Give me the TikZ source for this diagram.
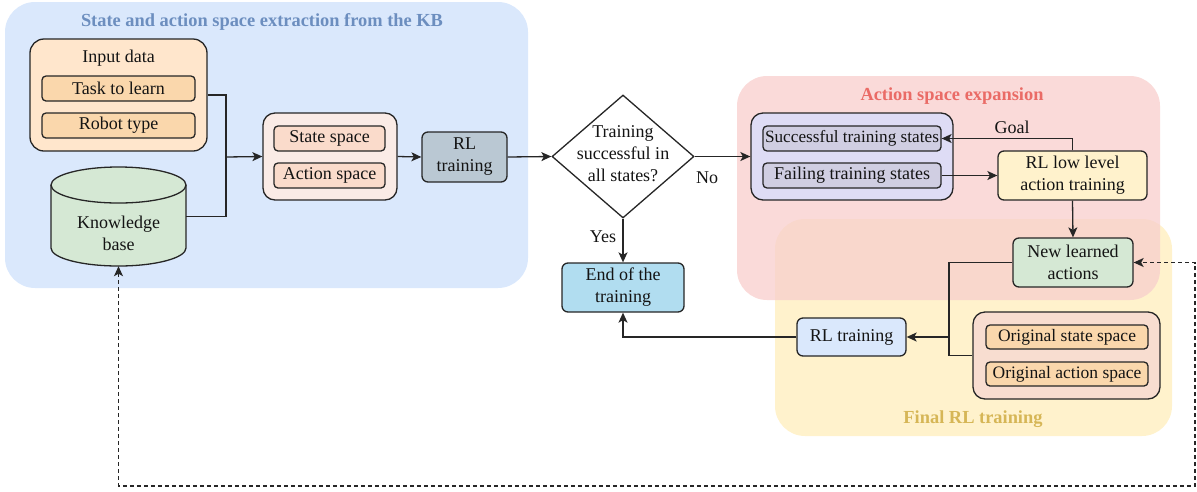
\documentclass[tikz,border=0pt]{standalone}
\usepackage{fontspec}
\setmainfont{Liberation Serif}
\usetikzlibrary{arrows.meta,shapes.geometric}
\definecolor{linec}{HTML}{262626}
\definecolor{blueReg}{HTML}{DAE8FC}
\definecolor{redReg}{HTML}{F8CECC}
\definecolor{yelReg}{HTML}{FFF2CC}
\definecolor{blueTitle}{HTML}{6C8EBF}
\definecolor{redTitle}{HTML}{EA6B66}
\definecolor{yelTitle}{HTML}{D6B656}
\definecolor{peach}{HTML}{FFE6CC}
\definecolor{orangeIn}{HTML}{FAD7AC}
\definecolor{kbgreen}{HTML}{D5E8D4}
\definecolor{saOuter}{HTML}{FAEBE6}
\definecolor{saInner}{HTML}{FADBCB}
\definecolor{rlgray}{HTML}{BAC8D3}
\definecolor{endblue}{HTML}{B1DDF0}
\definecolor{lavOuter}{HTML}{DEDCF5}
\definecolor{lavInner}{HTML}{D0CEE2}
\definecolor{origOuter}{HTML}{F8DDD0}
\begin{document}
\begin{tikzpicture}[x=1pt,y=-1pt,
  font=\fontsize{18}{22}\selectfont,
  regtitle/.style={font=\fontsize{18.4}{22}\selectfont\bfseries},
  box/.style={draw=linec, line width=1.3pt, rounded corners=6pt, inner sep=0pt, align=center, text=black!92},
  inbox/.style={box, rounded corners=4pt},
  conn/.style={draw=linec, line width=1.3pt},
  tip/.tip={Stealth[length=10pt,width=9pt,inset=2.5pt]},
  arr/.style={conn, -tip},
  lbl/.style={inner sep=0pt, text=black!92, align=center}]
\useasboundingbox (0,0) rectangle (1197,491);

% regions
\fill[blueReg, rounded corners=30pt] (5,2) rectangle (528,288);
\fill[yelReg, rounded corners=30pt] (775,219) rectangle (1172,436);
\fill[redReg, fill opacity=0.75, rounded corners=30pt] (737,76) rectangle (1160,300);
\node[regtitle, text=blueTitle] (t1) at (262,22) {State and action space extraction from the KB};
\node[regtitle, text=redTitle] (t2) at (952,96) {Action space expansion};
\node[regtitle, text=yelTitle] (t3) at (973,419) {Final RL training};

% input data
\node[box, fill=peach, rounded corners=14pt, minimum width=177pt, minimum height=112pt] (input) at (118.5,95) {};
\node[lbl] (inputt) at (118.5,58) {Input data};
\node[inbox, fill=orangeIn, minimum width=153pt, minimum height=25pt] (task) at (118.5,88.5) {Task to learn};
\node[inbox, fill=orangeIn, minimum width=153pt, minimum height=25pt] (robot) at (118.5,125.5) {Robot type};

% knowledge base cylinder
\fill[kbgreen] (51,185) -- (51,248) arc[start angle=180, end angle=360, x radius=67.5, y radius=-18] -- (186,185) -- cycle;
\fill[kbgreen] (118.5,185) ellipse[x radius=67.5, y radius=18];
\draw[conn] (51,185) -- (51,248) arc[start angle=180, end angle=360, x radius=67.5, y radius=-18] -- (186,185);
\draw[conn] (118.5,185) ellipse[x radius=67.5, y radius=18];
\node[minimum width=135pt, minimum height=99pt, inner sep=0pt] (kb) at (118.5,216.5) {};
\node[lbl] (kbt) at (118.5,233.5) {Knowledge\\base};

% state/action
\node[box, fill=saOuter, rounded corners=12pt, minimum width=134pt, minimum height=87pt] (sa) at (330,156.5) {};
\node[inbox, fill=saInner, minimum width=111pt, minimum height=25pt] (ss) at (329.5,138.5) {State space};
\node[inbox, fill=saInner, minimum width=111pt, minimum height=25pt] (as) at (329.5,175.5) {Action space};

\node[box, fill=rlgray, minimum width=85pt, minimum height=50pt] (rl) at (464.5,157) {RL\\training};

% diamond
\node[diamond, draw=linec, line width=1.3pt, fill=white, minimum width=142pt, minimum height=123pt, inner sep=0pt] (dia) at (623,156.5) {};
\node[lbl] (diat) at (623,154) {Training\\successful in\\all states?};

\node[box, fill=endblue, minimum width=122pt, minimum height=49pt] (end) at (623,287.5) {End of the\\training};

% action space expansion
\node[box, fill=lavOuter, rounded corners=12pt, minimum width=202pt, minimum height=87pt] (sf) at (852,156.5) {};
\node[inbox, fill=lavInner, minimum width=178pt, minimum height=25pt, font=\fontsize{17.2}{21}\selectfont] (succ) at (852,138.5) {Successful training states};
\node[inbox, fill=lavInner, minimum width=178pt, minimum height=25pt] (fail) at (852,175.5) {Failing training states};
\node[box, fill=yelReg, minimum width=149pt, minimum height=49pt] (rllow) at (1072.5,175.5) {RL low level\\action training};
\node[box, fill=kbgreen, minimum width=120pt, minimum height=49pt] (new) at (1073,262.5) {New learned\\actions};

% final RL training
\node[box, fill=origOuter, rounded corners=12pt, minimum width=187pt, minimum height=87pt] (orig) at (1066.5,355.5) {};
\node[inbox, fill=orangeIn, minimum width=162pt, minimum height=24pt, font=\fontsize{17.5}{21}\selectfont] (os) at (1067,337) {Original state space};
\node[inbox, fill=orangeIn, minimum width=162pt, minimum height=24pt, font=\fontsize{17.5}{21}\selectfont] (oa) at (1067,374) {Original action space};
\node[box, fill=blueReg, minimum width=109pt, minimum height=38pt] (rlf) at (851.5,337) {RL training};

% connectors
\coordinate (j1) at (226,157);
\draw[conn] (input.east) -| (j1);
\draw[conn] (kb.east) -| (j1);
\draw[arr] (j1) -- (sa.west);
\draw[arr] (sa.east) -- (rl.west);
\draw[arr] (rl.east) -- (dia.west);
\draw[arr] (dia.east) -- (sf.west);
\node[lbl] (no) at (707,178) {No};
\draw[arr] (dia.south) -- (end.north);
\node[lbl] (yes) at (603,237) {Yes};
\draw[arr] (fail.east) -- (rllow.west);
\draw[arr] (rllow.north) |- (succ.east);
\node[lbl] (goal) at (1012,127) {Goal};
\draw[arr] (rllow.south) -- (new.north);
\coordinate (j2) at (949,337);
\draw[conn] (new.west) -| (j2);
\draw[conn] (orig.west) -| (j2);
\draw[arr] (j2) -- (rlf.east);
\draw[arr] (rlf.west) -| (end.south);
\coordinate (c1) at (1195,486);
\draw[draw=linec, line width=1.2pt, dash pattern=on 4pt off 3pt, tip-tip] (kb.south) |- (c1) |- (new.east);
\end{tikzpicture}
\end{document}
